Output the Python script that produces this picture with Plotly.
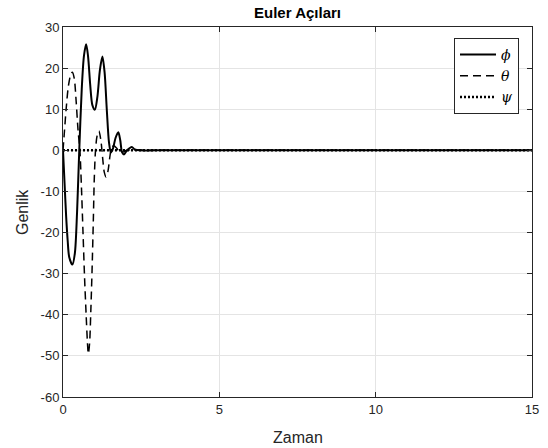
import plotly.graph_objects as go

t_phi = [0, 0.05, 0.1, 0.15, 0.2, 0.3, 0.38, 0.45, 0.52, 0.6, 0.67, 0.74, 0.8, 0.87, 0.94, 1.02,
         1.1, 1.18, 1.26, 1.33, 1.4, 1.47, 1.53, 1.6, 1.68, 1.77, 1.83, 1.89, 1.95, 2.05, 2.2,
         2.3, 2.45, 3, 15]
phi = [0, -8, -16, -22, -26, -27.8, -25, -15, 0, 15, 23, 25.8, 23, 16, 11, 9.9,
       13, 19.5, 22.8, 19, 10, 2, -0.5, 0.5, 3, 4.4, 2.5, -0.5, -1, 0, 0.8,
       0.2, 0, 0, 0]

t_theta = [0, 0.05, 0.1, 0.17, 0.25, 0.3, 0.36, 0.42, 0.48, 0.54, 0.59, 0.64, 0.69, 0.74, 0.78,
           0.81, 0.85, 0.89, 0.93, 0.97, 1.0, 1.04, 1.09, 1.15, 1.21, 1.27, 1.32, 1.38, 1.44,
           1.5, 1.55, 1.62, 1.72, 1.82, 1.92, 2.05, 3, 15]
theta = [0, 5, 10, 15.5, 18.5, 19, 17.5, 12, 5, 0, -9, -20, -31, -40, -46.5,
         -49.5, -47, -39, -29, -17, -7, 0, 3.5, 4.7, 2.5, -2, -5.3, -6.5, -5,
         -1.5, 0.5, 1.1, 0.5, -0.5, -0.4, 0, 0, 0]

t_psi = [0, 15]
psi = [0, 0]

x_ticks = [0, 5, 10, 15]
y_ticks = [30, 20, 10, 0, -10, -20, -30, -40, -50, -60]

fig = go.Figure()
fig.add_trace(go.Scatter(x=t_phi, y=phi, mode="lines", name="<i>ϕ</i>",
                         line=dict(color="black", width=2, shape="spline", smoothing=0.8)))
fig.add_trace(go.Scatter(x=t_theta, y=theta, mode="lines", name="<i>θ</i>",
                         line=dict(color="black", width=1.5, dash="8px,5px", shape="spline", smoothing=0.8)))
fig.add_trace(go.Scatter(x=t_psi, y=psi, mode="lines", name="<i>ψ</i>",
                         line=dict(color="black", width=2.5, dash="2px,2px")))

axis_common = dict(
    showline=True, linecolor="#262626", linewidth=1, mirror="ticks",
    ticks="inside", ticklen=5, tickcolor="#262626",
    showgrid=True, gridcolor="#e4e4e4", gridwidth=1,
    zeroline=False, automargin=False,
    tickfont=dict(family="Liberation Sans, Arial", size=13, color="#262626"),
)

label_font = dict(family="Liberation Sans, Arial", size=16, color="#262626")

fig.update_layout(
    width=548, height=448,
    margin=dict(l=63, r=16, t=27, b=51),
    paper_bgcolor="white", plot_bgcolor="white",
    title=dict(text="<b>Euler Açıları</b>", x=(63 + 532) / 2 / 548, xanchor="center",
               y=1 - 13 / 448, yanchor="middle",
               font=dict(family="Liberation Sans, Arial", size=15, color="black")),
    xaxis=dict(range=[0, 15], tickvals=x_ticks, ticktext=[str(v) for v in x_ticks],
               **axis_common),
    yaxis=dict(range=[-60, 30], tickvals=y_ticks, ticktext=[str(v) for v in y_ticks],
               **axis_common),
    legend=dict(x=(454 - 63) / 469, y=(397 - 38) / 370, xanchor="left", yanchor="top",
                bgcolor="white", bordercolor="#262626", borderwidth=1,
                font=dict(family="DejaVu Serif", size=14, color="black"),
                tracegroupgap=0, itemwidth=36),
    showlegend=True,
    annotations=[
        dict(text="Zaman", xref="paper", yref="paper", x=0.5, y=0, xanchor="center",
             yanchor="middle", yshift=-40, showarrow=False, font=label_font),
        dict(text="Genlik", xref="paper", yref="paper", x=0, y=0.5, xanchor="center",
             yanchor="middle", xshift=-41, textangle=-90, showarrow=False, font=label_font),
    ],
)

fig.write_html("out.html")
